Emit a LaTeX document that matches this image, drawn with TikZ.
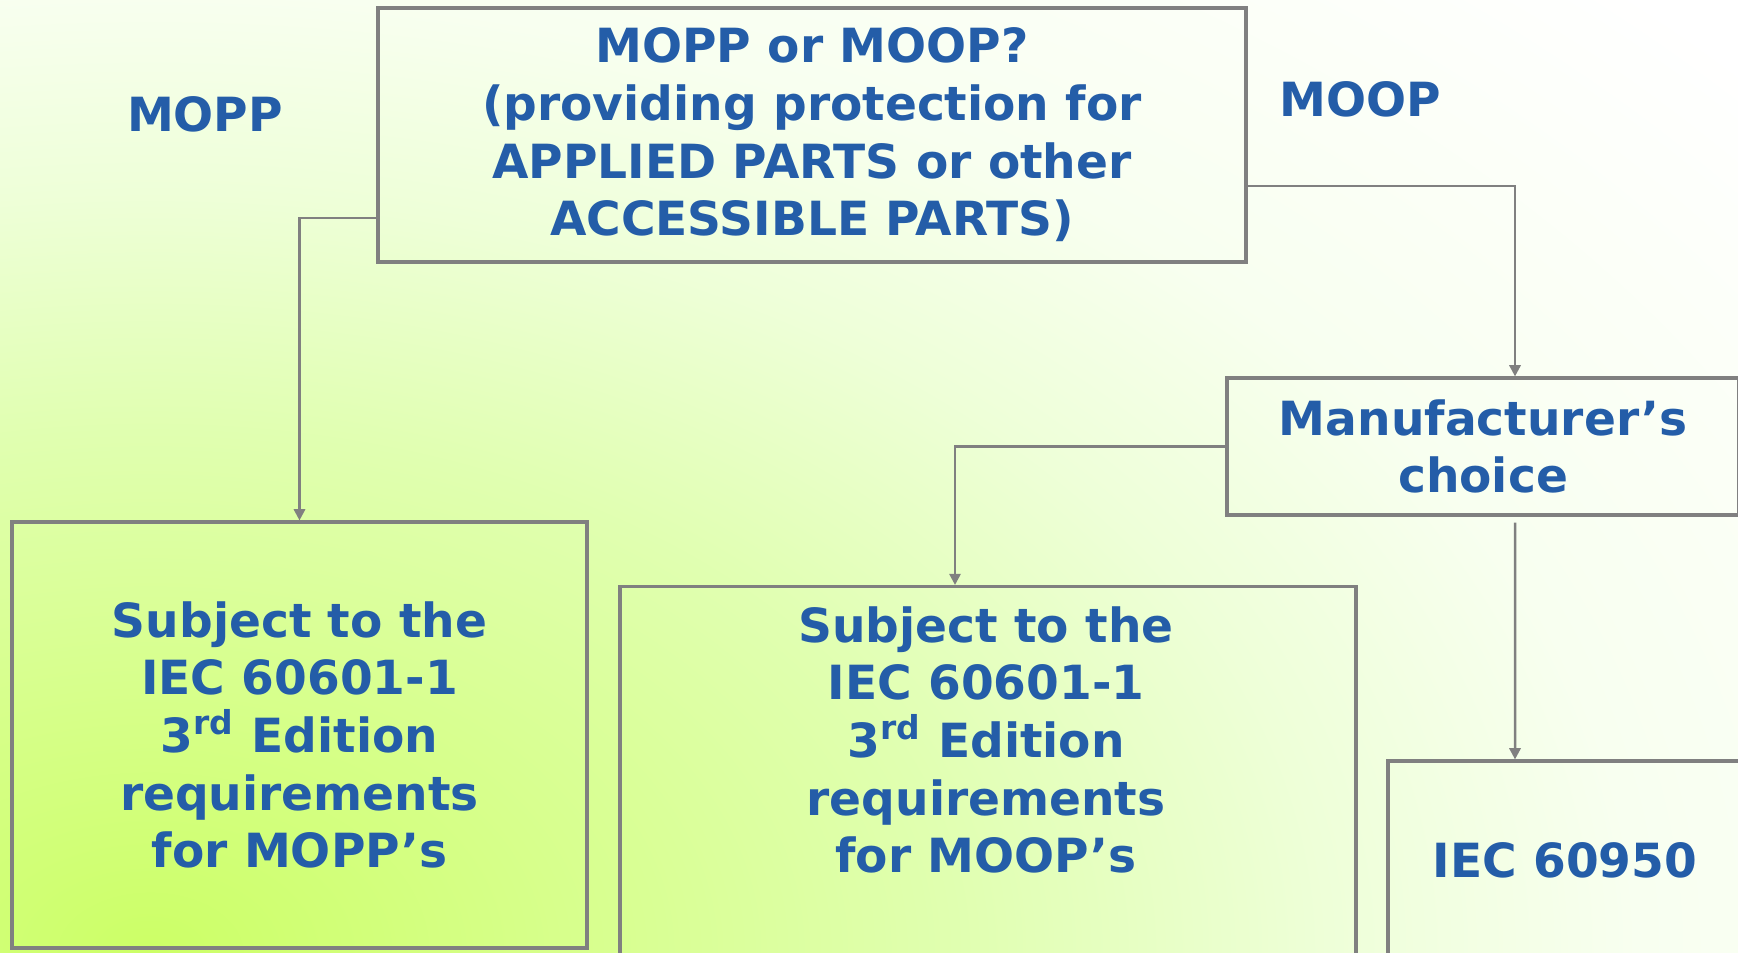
\documentclass[tikz,border=0pt]{standalone}
\usepackage{fontspec}
\setmainfont{DejaVu Sans}
\usetikzlibrary{arrows.meta,positioning,calc}
\definecolor{label-blue}{HTML}{245DA8}
\definecolor{frame-grey}{HTML}{808080}
\definecolor{glowa}{HTML}{CCFF66}
\definecolor{glowb}{HTML}{D6FF88}
\definecolor{glowc}{HTML}{E0FFB0}
\definecolor{glowd}{HTML}{EEFFD8}
\definecolor{glowe}{HTML}{F8FFF0}
\pgfdeclareradialshading{bgglow}{\pgfpointorigin}{color(0bp)=(glowa); color(3bp)=(glowb); color(6.5bp)=(glowc); color(9.5bp)=(glowd); color(12bp)=(glowe); color(17bp)=(white); color(50bp)=(white)}

\begin{document}
\begin{tikzpicture}[
  block/.style={draw=frame-grey, line width=0.9pt, align=center, inner sep=0pt, font=\bfseries\fontsize{13.4}{16.4}\selectfont, text=label-blue},
  tag/.style={font=\bfseries\fontsize{13.4}{16.4}\selectfont, text=label-blue},
  conn/.style={-{Triangle[length=3.2pt, width=3.2pt]}, line width=0.7pt, frame-grey}
]
  \useasboundingbox (0,0) rectangle (17.38,9.52);
  \begin{scope}
    \clip (0,0) rectangle (17.38,9.52);
    \shade[shading=bgglow] (1.5,0) ellipse (31 and 20);
  \end{scope}

  \node[block, minimum width=8.68cm, minimum height=2.54cm] (ask) at (8.12,8.17) {MOPP or MOOP?\\(providing protection for\\APPLIED PARTS or other\\ACCESSIBLE PARTS)};
  \node[tag] (moppword) at (2.05,8.38) {MOPP};
  \node[tag] (moopword) at (13.60,8.53) {MOOP};

  \node[block, minimum width=5.75cm, minimum height=4.26cm] (mopp) at (2.995,2.17) {Subject to the\\IEC 60601-1\\3\textsuperscript{rd} Edition\\requirements\\for MOPP’s};
  \node[block, minimum width=5.12cm, minimum height=1.37cm] (maker) at (14.83,5.055) {Manufacturer’s\\choice};
  \node[block, minimum width=7.36cm, minimum height=4.3cm, anchor=north] (moop) at (9.88,3.67) {};
  \node[block, draw=none] (mooptext) at (9.86,2.12) {Subject to the\\IEC 60601-1\\3\textsuperscript{rd} Edition\\requirements\\for MOOP’s};
  \node[block, minimum width=3.54cm, minimum height=1.98cm] (iec) at (15.65,0.92) {IEC 60950};

  \draw[conn] ([yshift=-0.83cm]ask.west) -| (mopp.north);
  \draw[conn] ([yshift=-0.51cm]ask.east) -| ([xshift=0.32cm]maker.north);
  \draw[conn] (maker.west) -| ([xshift=-0.33cm]moop.north);
  \draw[conn] ([xshift=0.32cm,yshift=-0.06cm]maker.south) -- ([xshift=-0.5cm]iec.north);
\end{tikzpicture}
\end{document}
